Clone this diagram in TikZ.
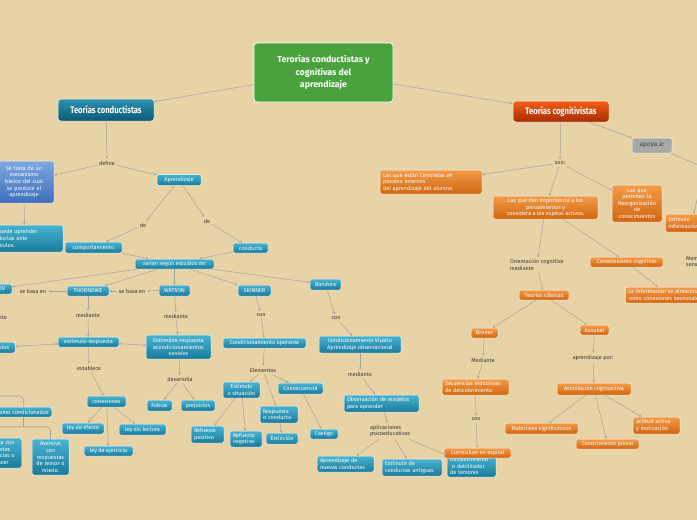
\documentclass[tikz,border=0pt]{standalone}
\usepackage{fontspec}
\setmainfont{Fira Sans}
\newfontfamily\titlefont[FakeStretch=0.8]{Fira Sans}
\usetikzlibrary{arrows.meta}
\definecolor{paper}{HTML}{E8D3A7}
\definecolor{tealA}{HTML}{48B3D1}
\definecolor{tealB}{HTML}{1A7B9B}
\definecolor{orgA}{HTML}{F29C4A}
\definecolor{orgB}{HTML}{D2660F}
\definecolor{condA}{HTML}{2A92B0}
\definecolor{condB}{HTML}{0E5A74}
\definecolor{cogA}{HTML}{F25E18}
\definecolor{cogB}{HTML}{A92C00}
\definecolor{rootgreen}{HTML}{4AA23F}
\definecolor{grayA}{HTML}{A8A8A8}
\definecolor{blueA}{HTML}{7DA8E2}
\definecolor{blueB}{HTML}{3E6FBB}
\definecolor{linkgray}{HTML}{A3A39C}
\definecolor{lbltext}{HTML}{3A3530}
\begin{document}
\begin{tikzpicture}[x=1pt,y=-1pt,
  box/.style={rounded corners=2pt, draw=white!80!paper, line width=0.5pt, text=white,
    font=\fontsize{5.5}{6.6}\selectfont, inner xsep=3pt, inner ysep=1pt, align=center},
  tbox/.style={box, top color=tealA, bottom color=tealB},
  obox/.style={box, top color=orgA, bottom color=orgB},
  titbox/.style={box, rounded corners=3pt, font=\titlefont\bfseries\fontsize{9.5}{11}\selectfont},
  lbl/.style={font=\fontsize{5.5}{6.6}\selectfont, text=lbltext, inner sep=2pt, align=left},
  link/.style={draw=linkgray, line width=0.5pt, -{Stealth[length=2.5pt,width=2.5pt]}},
  both/.style={link, {Stealth[length=2.5pt,width=2.5pt]}-{Stealth[length=2.5pt,width=2.5pt]}},
  bracket/.style={draw=linkgray, line width=0.6pt, rounded corners=4pt},
]
\path[use as bounding box, fill=paper] (0,0) rectangle (697,520);
\clip (0,0) rectangle (697,520);

% centre and the two theories
\node[box, rounded corners=3pt, fill=rootgreen, draw=white, line width=0.8pt,
  font=\bfseries\fontsize{8.8}{12.5}\selectfont, minimum width=139pt, minimum height=59pt] (root) at (323.5,72.5) {Terorías conductistas y\\cognitivas del\\aprendizaje};
\node[titbox, top color=condA, bottom color=condB, minimum width=96pt, minimum height=22pt] (conduct) at (106,110) {Teorías conductistas};
\node[titbox, top color=cogA, bottom color=cogB, minimum width=96pt, minimum height=21pt] (cognit) at (561,111.5) {Teorías cognitivistas};
\node[box, fill=grayA, text=black!75, font=\fontsize{6.5}{7.5}\selectfont, minimum width=40pt, minimum height=15pt] (apoya) at (652,145.5) {apoya a:};
\coordinate (apoyaout) at (715,172);
\coordinate (offr) at (703,176);

% conductistas
\node[lbl] (define) at (107,163) {define};
\node[box, top color=blueA, bottom color=blueB, text width=54pt, minimum height=42pt] (mecan) at (24,182) {Se trata de un\\mecanismo\\básico del cual\\se produce el\\aprendizaje};
\node[tbox, align=left, text width=71pt, minimum height=27pt] (sepuede) at (24.5,238.5) {Se puede aprender\\conductas ante\\estímulos.};
\node[tbox, minimum width=44pt, minimum height=11pt] (aprend) at (179,180) {Aprendizaje};
\node[lbl] (de1) at (143,225) {de};
\node[lbl] (de2) at (207,221) {de};
\node[tbox, minimum width=57pt, minimum height=11pt] (comport) at (93.5,247.5) {comportamiento};
\node[tbox, minimum width=35pt, minimum height=10pt] (conducta) at (250.5,248) {conducta};
\node[tbox, minimum width=79pt, minimum height=10pt] (varian) at (174.5,264) {varian según estudios de:};

\node[tbox, minimum width=32pt, minimum height=10pt] (pavlov) at (-4,289) {PAVLOV};
\node[lbl] (basa1) at (33,291) {se basa en};
\node[tbox, minimum width=42pt, minimum height=10pt] (thorn) at (88,291) {THORNDIKE};
\node[lbl] (basa2) at (132,291) {se basa en};
\node[tbox, minimum width=31pt, minimum height=11pt] (watson) at (174.5,290.5) {WATSON};
\node[tbox, minimum width=33pt, minimum height=11pt] (skinner) at (254.5,290.5) {SKINNER};
\node[tbox, minimum width=31pt, minimum height=11pt] (bandura) at (325.5,284.5) {Bandura};

\node[lbl] (med0) at (-5,317) {mediante};
\node[tbox, minimum width=36pt, minimum height=11pt] (estimulos) at (-3,347.5) {Estímulos};
\node[lbl] (med1) at (88,315) {mediante};
\node[tbox, minimum width=61pt, minimum height=10pt] (estresp) at (88.5,342) {estímulo-respuesta};
\node[lbl] (med2) at (176,316) {mediante};
\node[tbox, minimum width=65pt, minimum height=24pt] (estson) at (178.5,347) {Estímulos-respuesta\\acondicionamientos\\sonidos};
\node[lbl] (desarr) at (180,379) {desarrolla};
\node[tbox, minimum width=25pt, minimum height=11pt] (fobias) at (159.5,405.5) {Fobias};
\node[tbox, minimum width=34pt, minimum height=11pt] (prejui) at (198,405.5) {prejuicios};
\node[lbl] (establ) at (89,368) {establece};
\node[tbox, minimum width=39pt, minimum height=11pt] (conex) at (106.5,401.5) {conexiones};
\node[tbox, minimum width=42pt, minimum height=11pt] (efecto) at (83,428.5) {ley de efecto};
\node[tbox, minimum width=47pt, minimum height=11pt] (lectura) at (142.5,429.5) {ley sin lectura};
\node[tbox, minimum width=49pt, minimum height=10pt] (ejerc) at (108.5,451) {ley de ejercicio};

\node[tbox, anchor=east, align=right, text width=90pt, minimum height=10pt] (condic) at (52,412) {Estímulos como condicionados};
\node[tbox, anchor=east, text width=44pt, minimum height=30pt] (apet) at (22,453) {Específica con\\respuestas\\preferencias o\\de placer};
\node[tbox, text width=31pt, minimum height=36pt] (avers) at (50.5,457) {Aversivo\\con\\respuestas\\de temor o\\miedo.};
\coordinate (brk1) at (-10,396);

\node[lbl] (con1) at (261,315) {con};
\node[tbox, minimum width=83pt, minimum height=10pt] (condop) at (264.5,343) {Condicionamiento operante};
\node[lbl] (elem) at (263,370) {Elementos};
\node[tbox, minimum width=37pt, minimum height=16pt] (estsit) at (241.5,390) {Estímulo\\o situación};
\node[tbox, minimum width=45pt, minimum height=11pt] (consec) at (300.5,388.5) {Consecuencia};
\node[tbox, align=left, text width=32pt, minimum height=17pt] (respc) at (279,414.5) {Respuesta\\o conducta};
\node[tbox, minimum width=32pt, minimum height=11pt] (extinc) at (282,438.5) {Extinción};
\node[tbox, minimum width=28pt, minimum height=10pt] (castigo) at (324,434) {Castigo};
\node[tbox, align=left, text width=27pt, minimum height=17pt] (refpos) at (207.5,434.5) {Refuerzo\\positivo};
\node[tbox, align=left, text width=26pt, minimum height=16pt] (refneg) at (246,439) {Refuerzo\\negativo};

\node[lbl] (con2) at (336,318) {con};
\node[tbox, minimum width=82pt, minimum height=17pt] (vicario) at (360,344.5) {Condicionamiento Vicario\\Aprendizaje observacional};
\node[lbl] (med3) at (360,374) {mediante};
\node[tbox, align=left, text width=69pt, minimum height=17pt] (observ) at (381.5,403.5) {Observación de modelos\\para aprender};
\node[lbl] (aplic) at (390,431) {aplicaciones\\psicoeducativas};
\node[tbox, align=left, text width=51pt, minimum height=16pt] (nuevas) at (345.5,464) {Aprendizaje de\\nuevas conductas};
\node[tbox, align=left, text width=54pt, minimum height=17pt] (antig) at (412,467.5) {Estímulo de\\conductas antiguas};
\node[tbox, align=left, text width=43pt, minimum height=22pt] (fortal) at (471.5,466) {fortalecimiento\\\ o debilitador\\de temores};

% cognitivistas
\node[lbl] (son) at (560,163) {son:};
\node[obox, align=left, text width=96pt, minimum height=24pt] (centr) at (431,182) {Las que están Centradas en\\proceso internos\\del aprendizaje del alumno.};
\node[obox, minimum width=105pt, minimum height=23pt] (import) at (545.5,207.5) {Las que dan Importancia a los\\pensamientos y\\considera a los sujetos activos.};
\node[obox, text width=44pt, minimum height=37pt] (reorg) at (637,203.5) {Las que\\permiten la\\Reorganización\\de\\conocimientos};
\node[obox, anchor=west, align=left, text width=46pt, minimum height=18pt] (estinf) at (665,223) {Estímulo\\información};
\node[lbl, anchor=west] (orient) at (508,265) {Orientación cognitiva\\mediante};
\node[obox, minimum width=50pt, minimum height=10pt] (clasic) at (544,295) {Teorías clásicas};
\node[obox, minimum width=73pt, minimum height=10pt] (conexc) at (626.5,262) {Conexionismo cognitivo};
\node[obox, anchor=west, align=left, text width=80pt, minimum height=16pt] (almac) at (625,295) {La información se almacena\\como conexiones neuronales};
\node[lbl, anchor=west] (memsen) at (684,261.5) {Memoria\\sensorial};
\node[obox, minimum width=27pt, minimum height=10pt] (bruner) at (484.5,333) {Bruner};
\node[obox, minimum width=29pt, minimum height=10pt] (ausubel) at (594.5,330) {Ausubel};
\node[lbl] (med4) at (483,360) {Mediante};
\node[obox, align=left, text width=61pt, minimum height=16pt] (secuen) at (475.5,387) {Secuencias inductivas\\de descubrimiento};
\node[lbl] (con3) at (476,419) {con};
\node[obox, minimum width=67pt, minimum height=10pt] (espiral) at (477.5,453) {Currículum en espiral};
\node[lbl] (aprpor) at (593,358) {aprendizaje por:};
\node[obox, minimum width=74pt, minimum height=12pt] (asimil) at (594,389) {Asimilación cognoactiva};
\node[obox, minimum width=73pt, minimum height=11pt] (mater) at (541.5,428.5) {Materiales significativos};
\node[obox, minimum width=63pt, minimum height=10pt] (conprev) at (607.5,444) {Conocimiento previo};
\node[obox, align=left, text width=41pt, minimum height=17pt] (actitud) at (656.5,425.5) {actitud activa\\y motivación};

% links
\draw[link] (root) -- (conduct);
\draw[link] (root) -- (cognit);
\draw[link] (cognit) -- (apoya);
\draw[link] (apoya) -- (apoyaout);
\draw[link] (conduct) -- (define);
\draw[link] (define) -- (mecan);
\draw[link] (define) -- (aprend);
\draw[link] (mecan) -- (sepuede);
\draw[link] (aprend) -- (de1);
\draw[link] (aprend) -- (de2);
\draw[link] (de1) -- (comport);
\draw[link] (de2) -- (conducta);
\draw[link] (conducta) -- (varian);
\draw[link] (comport) -- (varian);
\draw[link] (varian) -- (pavlov);
\draw[link] (varian) -- (thorn);
\draw[link] (varian) -- (watson);
\draw[link] (varian) -- (skinner);
\draw[link] (varian) -- (bandura);
\draw[link] (thorn) -- (basa1);
\draw[link] (watson) -- (basa2);
\draw[link] (basa2) -- (thorn);
\draw[link] (pavlov) -- (med0);
\draw[link] (med0) -- (estimulos);
\draw[link] (thorn) -- (med1);
\draw[link] (med1) -- (estresp);
\draw[both] (estimulos) -- (estresp);
\draw[both] (estresp) -- (estson);
\draw[link] (watson) -- (med2);
\draw[link] (med2) -- (estson);
\draw[link] (estson) -- (desarr);
\draw[link] (desarr) -- (fobias);
\draw[link] (desarr) -- (prejui);
\draw[link] (estresp) -- (establ);
\draw[link] (establ) -- (conex);
\draw[link] (conex) -- (efecto);
\draw[link] (conex) -- (ejerc);
\draw[link] (conex) -- (lectura);
\draw[bracket] (brk1) -| ([xshift=20pt]condic.north);
\draw[bracket] ([xshift=20pt]condic.south) -- ++(0,10);
\draw[bracket] (apet.north) -- ++(0,-11) -| (avers.north);
\draw[link] (skinner) -- (con1);
\draw[link] (con1) -- (condop);
\draw[link] (condop) -- (elem);
\draw[link] (elem) -- (estsit);
\draw[link] (elem) -- (respc);
\draw[link] (elem) -- (consec);
\draw[link] (estsit) -- (refpos);
\draw[link] (estsit) -- (refneg);
\draw[link] (respc) -- (extinc);
\draw[link] (consec) -- (castigo);
\draw[link] (bandura) -- (con2);
\draw[link] (con2) -- (vicario);
\draw[link] (vicario) -- (med3);
\draw[link] (med3) -- (observ);
\draw[link] (observ) -- (aplic);
\draw[link] (aplic) -- (nuevas);
\draw[link] (aplic) -- (antig);
\draw[link] (aplic) -- (fortal);
\draw[link] (cognit) -- (son);
\draw[link] (son) -- (centr);
\draw[link] (son) -- (import);
\draw[link] (son) -- (reorg);
\draw[link] (offr) -- (estinf);
\draw[link] (import) -- (orient);
\draw[link] (orient) -- (clasic);
\draw[link] (import) -- (conexc);
\draw[link] (conexc) -- (almac);
\draw[link] (clasic) -- (bruner);
\draw[link] (clasic) -- (ausubel);
\draw[link] (bruner) -- (med4);
\draw[link] (med4) -- (secuen);
\draw[link] (secuen) -- (con3);
\draw[link] (con3) -- (espiral);
\draw[link] (ausubel) -- (aprpor);
\draw[link] (aprpor) -- (asimil);
\draw[link] (asimil) -- (mater);
\draw[link] (asimil) -- (conprev);
\draw[link] (asimil) -- (actitud);
\end{tikzpicture}
\end{document}
